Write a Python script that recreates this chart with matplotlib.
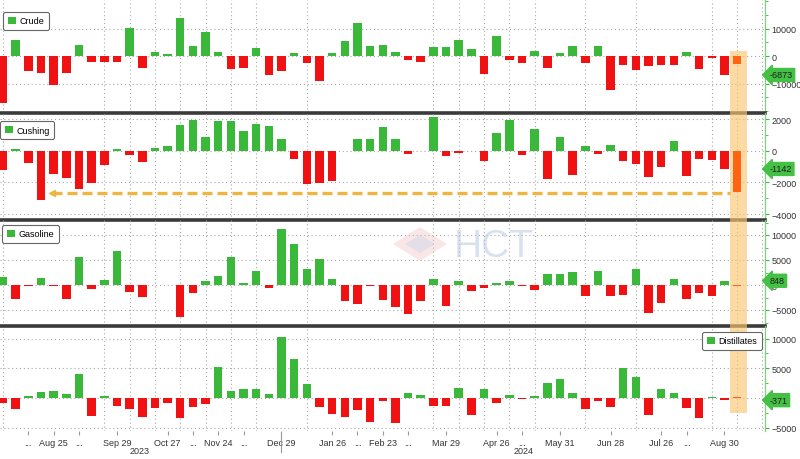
import matplotlib
matplotlib.use("Agg")
import matplotlib.pyplot as plt
from matplotlib.patches import Patch, Polygon
from matplotlib.ticker import FixedLocator, MultipleLocator

plt.rcParams["font.family"] = ["Liberation Sans", "DejaVu Sans"]

GREEN = "#3ab83a"
RED = "#f01212"
ORANGE = "#ff6414"
HIGHLIGHT = "#f9c774"
LABEL_GREEN = "#44c044"

# Weekly inventory changes (kbbl), weeks ending Jul 28 2023 .. Aug 30 2024
crude = [-17000, 5900, -5600, -6000, -10600, -6300, 4000, -2100, -2200, -2200,
         10200, -4500, 1400, 800, 13900, 3600, 8700, 1600, -4600, -4300,
         2900, -7000, -5500, 1300, -2500, -9200, 1200, 5500, 12000, 3500,
         4200, 1400, -1500, -2000, 3200, 3200, 5800, 2700, -6400, 7300,
         -1400, -2500, 1800, -4200, 1200, 3700, -2500, 3600, -12200, -3400,
         -4900, -3700, -3400, -3400, 1400, -4600, -800, -6873]
cushing = [-1230, 150, -760, -3140, -1460, -1700, -2420, -2010, -910, 110,
           -280, -700, 210, 320, 1630, 1990, 910, 1900, 1900, 1270,
           1740, 1570, 740, -490, -2080, -2010, -1930, 30, 740, 780,
           1530, 740, -170, -30, 2160, -340, -130, 20, -640, 1170,
           1950, -280, 1380, -1760, 890, -1550, 320, -170, 360, -640,
           -810, -1650, -1020, 640, -1610, -490, -600, -1142]
gasoline = [1580, -2740, -140, 1440, -140, -2740, 5690, -820, 1030, 6710,
            -1370, -2400, 50, 30, -6440, -1510, 820, 1780, 5550, 340,
            2740, -690, 11170, 8220, 3150, 5140, 1230, -3220, -3770, -140,
            -3010, -4450, -5820, -3220, 1230, -4250, 750, -1160, -620, 340,
            890, -270, -960, 2120, 2120, 2600, -2190, 2740, -2190, -1990,
            3290, -5620, -3560, 1230, -2880, -1510, -2190, 848]
distillates = [-900, -1850, 280, 960, 1240, 620, 4050, -2980, 390, -1290,
               -1910, -3260, -1740, -900, -3430, -1460, -1070, 5170, 1180, 1460,
               1460, 730, 10230, 6580, 2360, -1460, -2700, -3260, -2020, -4100,
               -560, -4210, 790, 560, -1290, -1290, 1630, -2810, 1520, -790,
               450, -220, 280, 2470, 3200, 790, -1800, -450, -1570, 5000,
               3480, -2810, 1520, 840, -1690, -3430, 220, -371]

# newest week, added in orange
latest = [-2800, -2600, -200, 100]
cushing_ref = -2650      # orange dashed reference level
cushing_ref_start = 3.9  # week index where the arrow ends

names = ["Crude", "Cushing", "Gasoline", "Distillates"]
series = [crude, cushing, gasoline, distillates]

tick_idx = [2, 4, 6, 9, 13, 15, 17, 19, 22, 26, 28, 30, 32, 35, 39, 41, 44, 48, 52, 54, 57]
tick_labels = ["...", "Aug 25", "...", "Sep 29", "Oct 27", "...", "Nov 24", "...",
               "Dec 29", "Jan 26", "...", "Feb 23", "...", "Mar 29", "Apr 26", "...",
               "May 31", "Jun 28", "Jul 26", "...", "Aug 30"]
year_labels = ["2023", "2024"]
year_pos = [10.8, 41.1]
year_break = 22

# panel layout in pixels (top, bottom), y limits and tick step
W, H = 800, 460
panels = [(1, 114), (114, 221), (221, 327), (327, 432)]
ylims = [(-20700, 20400), (-4380, 2410), (-8200, 13000), (-5560, 12120)]
ysteps = [10000, 2000, 5000, 5000]
yticks = [[10000, 0, -10000], [2000, 0, -2000, -4000],
          [10000, 5000, 0, -5000], [10000, 5000, 0, -5000]]
legend_anchor = [(0.004, 0.894, "upper left"), (0.0, 0.925, "upper left"),
                 (0.003, 0.953, "upper left"), (0.996, 0.943, "upper right")]
span_y = [(0.0, 0.549), (0, 1), (0, 1), (0.171, 1)]

fig = plt.figure(figsize=(W / 100, H / 100), dpi=100)
fig.patch.set_facecolor("white")

x = list(range(len(crude)))
x_new = len(crude)
axes = []
for i, (top, bot) in enumerate(panels):
    ax = fig.add_axes([0, 1 - bot / H, 765 / W, (bot - top) / H],
                      sharex=axes[0] if axes else None)
    ax.set_facecolor("none")
    vals = series[i]
    colors = [GREEN if v >= 0 else RED for v in vals]
    ax.bar(x, vals, width=0.67, color=colors, zorder=4)
    ax.bar(x_new, latest[i], width=0.67, color=ORANGE, zorder=5)
    ax.axvspan(57.47, 58.74, ymin=span_y[i][0], ymax=span_y[i][1],
               color=HIGHLIGHT, alpha=0.65, lw=0, zorder=3)

    ax.set_xlim(-0.24, 60.2)
    ax.set_ylim(*ylims[i])
    ax.yaxis.tick_right()
    ax.yaxis.set_major_locator(FixedLocator(yticks[i]))
    ax.yaxis.set_minor_locator(MultipleLocator(ysteps[i] / 2))
    ax.tick_params(axis="y", which="major", colors=GREEN, labelcolor="#333333",
                   length=3, width=0.8, pad=1.5, labelsize=6.5)
    ax.tick_params(axis="y", which="minor", colors=GREEN, length=2, width=0.6)
    ax.xaxis.set_minor_locator(MultipleLocator(2))
    ax.tick_params(axis="x", which="minor", length=0)
    ax.grid(True, axis="y", which="major", ls=(0, (1, 2.5)), color="#a8a8a8", lw=0.8, zorder=1)
    ax.grid(True, axis="x", which="minor", ls=(0, (1, 2.5)), color="#a8a8a8", lw=0.8, zorder=1)

    for s in ["left", "top"]:
        ax.spines[s].set_visible(False)
    ax.spines["right"].set_color("#7fd27f")
    ax.spines["right"].set_linewidth(0.9)
    if i < 3:
        ax.spines["bottom"].set_color("#3a3a3a")
        ax.spines["bottom"].set_linewidth(2.6)
        ax.tick_params(axis="x", which="major", bottom=False, labelbottom=False)
    else:
        ax.spines["bottom"].set_visible(False)

    # last value tag on the right axis
    last = vals[-1]
    ax.text(1.006, last, f"{last}", transform=ax.get_yaxis_transform(),
            ha="left", va="center", fontsize=6.5, color="#1e1e1e", zorder=6,
            bbox=dict(boxstyle="larrow,pad=0.22", fc=LABEL_GREEN, ec=LABEL_GREEN))

    bx, by, loc = legend_anchor[i]
    leg = ax.legend([Patch(facecolor=GREEN)], [names[i]], loc=loc,
                    bbox_to_anchor=(bx, by), borderaxespad=0, fontsize=6.5,
                    handlelength=0.9, handleheight=0.9, handletextpad=0.4,
                    borderpad=0.5, fancybox=True, framealpha=1)
    leg.get_frame().set_edgecolor("#666666")
    leg.get_frame().set_linewidth(0.8)
    leg.set_zorder(7)
    axes.append(ax)

# Cushing: dashed reference back to the previous low
ax = axes[1]
ax.plot([cushing_ref_start, 57.4], [cushing_ref, cushing_ref], color="#eeb640",
        lw=2.4, ls=(0, (3, 1.5)), zorder=6)
ax.plot([cushing_ref_start], [cushing_ref], marker="<", ms=4.5, color="#eeb640", zorder=6)

# bottom axis labels
ax = axes[3]
ax.set_xticks(tick_idx)
ax.set_xticklabels(tick_labels)
ax.tick_params(axis="x", which="major", length=3, color="#999999",
               labelsize=6.5, labelcolor="#333333", pad=2)
for lab, pos in zip(year_labels, year_pos):
    ax.text(pos, -0.185, lab, transform=ax.get_xaxis_transform(), ha="center",
            va="center", fontsize=6.5, color="#333333")
ax.plot([year_break, year_break], [-0.04, -0.2], transform=ax.get_xaxis_transform(),
        color="#999999", lw=0.8, clip_on=False)

# faint watermark
fig.text(0.617, 0.463, "HCT", fontsize=28, color="#b9cbe3", alpha=0.55,
         ha="center", va="center", zorder=10)
fig.patches.append(Polygon([(393 / W, 1 - 245 / H), (420 / W, 1 - 228 / H),
                            (447 / W, 1 - 245 / H), (420 / W, 1 - 262 / H)],
                           closed=True, transform=fig.transFigure,
                           fc="#efb9b9", alpha=0.35, lw=0, zorder=10))
fig.patches.append(Polygon([(405 / W, 1 - 245 / H), (420 / W, 1 - 236 / H),
                            (435 / W, 1 - 245 / H), (420 / W, 1 - 254 / H)],
                           closed=True, transform=fig.transFigure,
                           fc="#c9d6ea", alpha=0.45, lw=0, zorder=10))

fig.savefig("out.png", dpi=100)
